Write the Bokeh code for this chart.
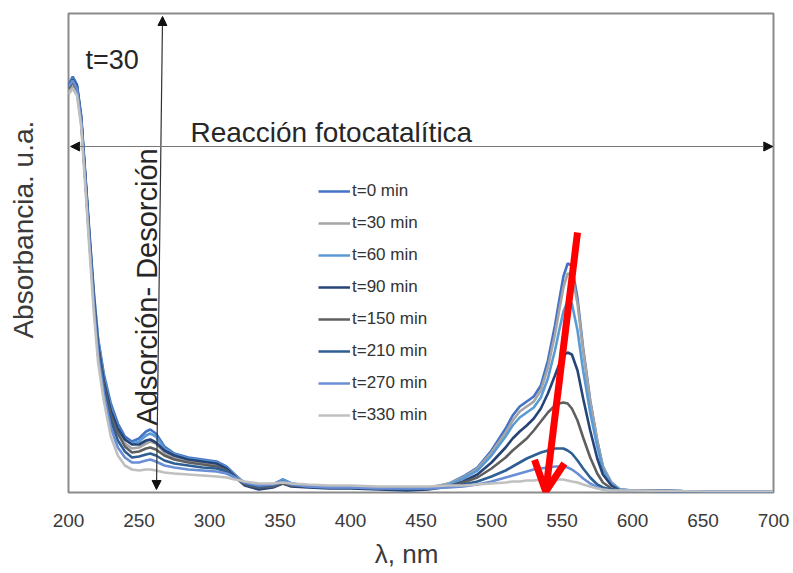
import math
from bokeh.plotting import figure
from bokeh.models import Range1d, FixedTicker, Label, Arrow, NormalHead, OpenHead, Legend
from bokeh.embed import file_html
from bokeh.resources import INLINE

# wavelength grid (nm)
wl = [200, 203, 206, 209, 212, 215, 218, 221, 225, 230,
      235, 240, 245, 250, 255, 258, 262, 268, 275, 285,
      295, 305, 312, 318, 325, 335, 345, 352, 358, 370,
      385, 400, 420, 440, 455, 470, 480, 490, 500, 510,
      515, 520, 525, 530, 535, 540, 545, 548, 551, 554,
      557, 561, 565, 570, 575, 579, 585, 591, 600, 650,
      700]

# absorbance (a.u.)
t0 = [4.08, 4.16, 4.08, 3.77, 3.17, 2.57, 2.00, 1.54, 1.19, 0.89,
      0.69, 0.56, 0.51, 0.54, 0.61, 0.63, 0.59, 0.46, 0.39, 0.35,
      0.33, 0.31, 0.26, 0.18, 0.09, 0.06, 0.08, 0.13, 0.09, 0.07,
      0.06, 0.05, 0.04, 0.03, 0.04, 0.09, 0.16, 0.25, 0.42, 0.64,
      0.77, 0.86, 0.91, 0.96, 1.07, 1.32, 1.67, 1.92, 2.16, 2.29,
      2.27, 1.94, 1.44, 0.92, 0.52, 0.26, 0.10, 0.03, 0.02, 0.01,
      0.01]
t30 = [4.00, 4.06, 4.00, 3.70, 3.12, 2.52, 1.96, 1.49, 1.12, 0.80,
       0.60, 0.49, 0.44, 0.45, 0.49, 0.51, 0.49, 0.40, 0.35, 0.32,
       0.30, 0.28, 0.24, 0.17, 0.10, 0.07, 0.08, 0.11, 0.09, 0.07,
       0.06, 0.06, 0.05, 0.04, 0.05, 0.09, 0.15, 0.24, 0.40, 0.60,
       0.72, 0.81, 0.86, 0.91, 1.02, 1.25, 1.58, 1.82, 2.05, 2.19,
       2.18, 1.89, 1.42, 0.91, 0.51, 0.26, 0.10, 0.03, 0.02, 0.01,
       0.01]
t60 = [4.08, 4.14, 4.06, 3.75, 3.15, 2.55, 1.98, 1.52, 1.16, 0.85,
       0.65, 0.53, 0.49, 0.51, 0.57, 0.59, 0.56, 0.44, 0.38, 0.34,
       0.32, 0.30, 0.25, 0.17, 0.08, 0.05, 0.07, 0.13, 0.09, 0.06,
       0.05, 0.05, 0.04, 0.03, 0.04, 0.08, 0.14, 0.22, 0.37, 0.56,
       0.67, 0.75, 0.80, 0.85, 0.95, 1.14, 1.42, 1.62, 1.81, 1.91,
       1.89, 1.62, 1.22, 0.80, 0.46, 0.23, 0.09, 0.03, 0.02, 0.01,
       0.01]
t90 = [4.07, 4.13, 4.06, 3.74, 3.14, 2.52, 1.94, 1.47, 1.12, 0.82,
       0.64, 0.53, 0.48, 0.48, 0.52, 0.53, 0.50, 0.42, 0.37, 0.33,
       0.31, 0.29, 0.24, 0.16, 0.07, 0.03, 0.05, 0.09, 0.06, 0.05,
       0.04, 0.04, 0.03, 0.02, 0.03, 0.06, 0.11, 0.18, 0.30, 0.45,
       0.54, 0.61, 0.67, 0.74, 0.84, 0.99, 1.17, 1.28, 1.37, 1.40,
       1.38, 1.22, 0.94, 0.62, 0.34, 0.18, 0.07, 0.02, 0.02, 0.01,
       0.01]
t150 = [4.04, 4.10, 4.03, 3.72, 3.12, 2.50, 1.92, 1.44, 1.08, 0.77,
        0.59, 0.46, 0.40, 0.41, 0.44, 0.45, 0.43, 0.37, 0.33, 0.30,
        0.28, 0.26, 0.22, 0.15, 0.08, 0.05, 0.06, 0.09, 0.07, 0.06,
        0.05, 0.05, 0.04, 0.04, 0.04, 0.06, 0.10, 0.15, 0.24, 0.35,
        0.42, 0.48, 0.54, 0.62, 0.71, 0.80, 0.87, 0.89, 0.90, 0.89,
        0.84, 0.72, 0.55, 0.35, 0.19, 0.10, 0.04, 0.02, 0.02, 0.01,
        0.01]
t210 = [4.06, 4.12, 4.05, 3.73, 3.12, 2.50, 1.91, 1.42, 1.04, 0.72,
        0.52, 0.41, 0.35, 0.36, 0.38, 0.39, 0.37, 0.32, 0.29, 0.27,
        0.25, 0.24, 0.21, 0.15, 0.09, 0.06, 0.07, 0.11, 0.08, 0.06,
        0.05, 0.05, 0.04, 0.03, 0.04, 0.06, 0.08, 0.11, 0.16, 0.22,
        0.26, 0.30, 0.34, 0.37, 0.40, 0.42, 0.44, 0.44, 0.44, 0.42,
        0.39, 0.32, 0.24, 0.15, 0.08, 0.05, 0.03, 0.02, 0.02, 0.01,
        0.01]
t270 = [4.06, 4.12, 4.04, 3.72, 3.10, 2.47, 1.87, 1.37, 0.99, 0.65,
        0.45, 0.35, 0.30, 0.30, 0.32, 0.33, 0.31, 0.27, 0.25, 0.23,
        0.22, 0.21, 0.19, 0.15, 0.10, 0.07, 0.08, 0.11, 0.08, 0.06,
        0.05, 0.05, 0.04, 0.04, 0.04, 0.05, 0.06, 0.08, 0.11, 0.15,
        0.17, 0.19, 0.21, 0.23, 0.24, 0.25, 0.26, 0.26, 0.26, 0.25,
        0.23, 0.19, 0.14, 0.09, 0.05, 0.03, 0.02, 0.02, 0.02, 0.01,
        0.01]
t330 = [3.98, 4.04, 3.97, 3.66, 3.04, 2.40, 1.79, 1.30, 0.92, 0.56,
        0.37, 0.27, 0.23, 0.22, 0.23, 0.23, 0.22, 0.20, 0.19, 0.18,
        0.17, 0.16, 0.15, 0.13, 0.11, 0.09, 0.09, 0.10, 0.09, 0.08,
        0.07, 0.07, 0.06, 0.06, 0.06, 0.07, 0.07, 0.08, 0.09, 0.10,
        0.11, 0.11, 0.12, 0.12, 0.13, 0.13, 0.13, 0.13, 0.13, 0.12,
        0.11, 0.10, 0.08, 0.06, 0.04, 0.03, 0.02, 0.02, 0.02, 0.01,
        0.01]

series_labels = ["t=0 min", "t=30 min", "t=60 min", "t=90 min",
                 "t=150 min", "t=210 min", "t=270 min", "t=330 min"]
series_values = [t0, t30, t60, t90, t150, t210, t270, t330]
series_colors = ["#4472C4", "#A5A5A5", "#5B9BD5", "#264478",
                 "#5F5F5F", "#2E5F94", "#6A8FD6", "#C0C0C0"]

x_ticks = [200, 250, 300, 350, 400, 450, 500, 550, 600, 650, 700]

FONT = "Liberation Sans"
TXT = "#262626"
NB = "\u00a0"

p = figure(width=793, height=573, output_backend="svg", toolbar_location=None,
           x_range=Range1d(200, 700), y_range=Range1d(0, 4.79),
           min_border_left=68, min_border_right=20, min_border_top=13,
           min_border_bottom=81)
p.background_fill_color = "white"
p.border_fill_color = "white"
p.grid.visible = False
p.outline_line_color = "#8a8a8a"
p.outline_line_width = 2

# x axis
p.xaxis.ticker = FixedTicker(ticks=x_ticks)
p.xaxis.minor_tick_line_color = None
p.xaxis.major_tick_line_color = None
p.xaxis.major_tick_out = 0
p.xaxis.major_tick_in = 0
p.xaxis.axis_line_color = None
p.xaxis.major_label_standoff = 21
p.xaxis.major_label_text_font = FONT
p.xaxis.major_label_text_font_size = "19px"
p.xaxis.major_label_text_color = "#3a3a3a"
p.xaxis.axis_label = "λ, nm" + NB * 4
p.xaxis.axis_label_text_font = FONT
p.xaxis.axis_label_text_font_size = "26px"
p.xaxis.axis_label_text_font_style = "normal"
p.xaxis.axis_label_text_color = "#3a3a3a"
p.xaxis.axis_label_standoff = 9

# y axis (no ticks)
p.yaxis.ticker = FixedTicker(ticks=[])
p.yaxis.minor_tick_line_color = None
p.yaxis.major_tick_line_color = None
p.yaxis.axis_line_color = None
p.yaxis.axis_label = NB * 6 + "Absorbancia. u.a."
p.yaxis.axis_label_text_font = FONT
p.yaxis.axis_label_text_font_size = "28px"
p.yaxis.axis_label_text_font_style = "normal"
p.yaxis.axis_label_text_color = "#3a3a3a"
p.yaxis.axis_label_standoff = 30

items = []
for lab, vals, col in zip(series_labels, series_values, series_colors):
    r = p.line(wl, vals, line_color=col, line_width=2.6)
    items.append((lab, [r]))

legend = Legend(items=items, location=(250, 67), padding=0, margin=0,
                spacing=12, glyph_width=32, glyph_height=20, label_height=20,
                label_standoff=2, label_text_font=FONT,
                label_text_font_size="17px", label_text_color="#333333",
                background_fill_alpha=0, border_line_color=None)
p.add_layout(legend, "center")

# vertical double arrow (adsorption-desorption limit)
p.add_layout(Arrow(x_start=262.4, y_start=0.03, x_end=266.7, y_end=4.76,
                   line_color="#333333", line_width=1.2,
                   start=NormalHead(size=9, fill_color="#111111", line_color="#111111"),
                   end=NormalHead(size=9, fill_color="#111111", line_color="#111111")))
# horizontal double arrow (photocatalytic reaction)
p.add_layout(Arrow(x_start=201.5, y_start=3.46, x_end=699.5, y_end=3.46,
                   line_color="#777777", line_width=1.2,
                   start=NormalHead(size=9, fill_color="#111111", line_color="#111111"),
                   end=NormalHead(size=9, fill_color="#111111", line_color="#111111")))
# red arrow
p.add_layout(Arrow(x_start=561.0, y_start=2.60, x_end=538.5, y_end=0.01,
                   line_color="#FF0000", line_width=7,
                   end=OpenHead(size=30, line_color="#FF0000", line_width=7)))

p.add_layout(Label(x=212.0, y=4.33, text="t=30", text_font=FONT,
                   text_font_size="27px", text_color=TXT, text_baseline="middle"))
p.add_layout(Label(x=286.5, y=3.60, text="Reacción fotocatalítica", text_font=FONT,
                   text_font_size="28px", text_color=TXT, text_baseline="alphabetic"))
p.add_layout(Label(x=256.0, y=0.67, text="Adsorción- Desorción", text_font=FONT,
                   text_font_size="29px", text_color=TXT, angle=math.pi / 2,
                   text_align="left", text_baseline="alphabetic"))

open("out.html", "w").write(file_html(p, INLINE))
